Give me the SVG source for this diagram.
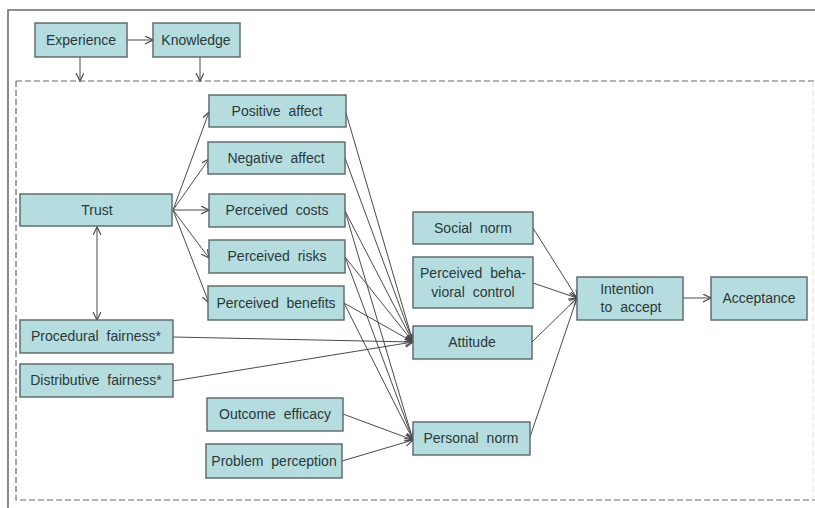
<svg xmlns="http://www.w3.org/2000/svg" width="815" height="508" viewBox="0 0 815 508">
<defs>
<style>
.box{fill:#b5dde0;stroke:#5a6466;stroke-width:1.4}
.t{font-family:"Liberation Sans",Arial,sans-serif;font-size:14px;fill:#2b3838;text-anchor:middle;word-spacing:4px}
.c{stroke:#4a4a4a;stroke-width:1;fill:none}
</style>
<marker id="ah" markerWidth="9" markerHeight="9" refX="8" refY="4" orient="auto-start-reverse" markerUnits="userSpaceOnUse">
<path d="M0,0 L8,4 L0,8" fill="none" stroke="#4a4a4a" stroke-width="1.2"/>
</marker>
</defs>
<rect width="815" height="508" fill="#ffffff"/>
<path d="M8,508 L8,10 L815,10" fill="none" stroke="#6e6e6e" stroke-width="1.6"/>
<path d="M16,81 L815,81 M16,81 L16,500 L815,500" fill="none" stroke="#6a6a6a" stroke-width="1.2" stroke-dasharray="6,3"/>
<path d="M813,81 L813,500" fill="none" stroke="#dddddd" stroke-width="1" stroke-dasharray="6,3"/>

<g id="connectors">
<path class="c" marker-end="url(#ah)" d="M127,40 L153,40"/>
<path class="c" marker-end="url(#ah)" d="M80,57 L80,81"/>
<path class="c" marker-end="url(#ah)" d="M200,57 L200,81"/>
<path class="c" marker-end="url(#ah)" d="M173,210 L209,112"/>
<path class="c" marker-end="url(#ah)" d="M173,210 L209,159"/>
<path class="c" marker-end="url(#ah)" d="M173,210 L209,210"/>
<path class="c" marker-end="url(#ah)" d="M173,210 L209,258"/>
<path class="c" marker-end="url(#ah)" d="M173,210 L209,303"/>
<path class="c" marker-start="url(#ah)" marker-end="url(#ah)" d="M97,227 L97,320"/>
<path class="c" marker-end="url(#ah)" d="M346,113 L413,342"/>
<path class="c" marker-end="url(#ah)" d="M345,158 L413,342"/>
<path class="c" marker-end="url(#ah)" d="M345,211 L413,342"/>
<path class="c" marker-end="url(#ah)" d="M345,257 L413,342"/>
<path class="c" marker-end="url(#ah)" d="M344,303 L413,342"/>
<path class="c" marker-end="url(#ah)" d="M173,337 L413,342"/>
<path class="c" marker-end="url(#ah)" d="M173,381 L413,342"/>
<path class="c" marker-end="url(#ah)" d="M345,211 L413,440"/>
<path class="c" marker-end="url(#ah)" d="M345,257 L413,440"/>
<path class="c" marker-end="url(#ah)" d="M344,303 L413,440"/>
<path class="c" marker-end="url(#ah)" d="M343,414 L413,440"/>
<path class="c" marker-end="url(#ah)" d="M342,461 L413,440"/>
<path class="c" marker-end="url(#ah)" d="M533,228 L577,298"/>
<path class="c" marker-end="url(#ah)" d="M533,283 L577,298"/>
<path class="c" marker-end="url(#ah)" d="M532,342 L577,298"/>
<path class="c" marker-end="url(#ah)" d="M530,437 L577,298"/>
<path class="c" marker-end="url(#ah)" d="M683,298 L711,298"/>
</g>

<g id="experience"><rect class="box" x="35" y="23" width="92" height="34"/><text class="t" x="81" y="45">Experience</text></g>
<g id="knowledge"><rect class="box" x="153" y="23" width="87" height="34"/><text class="t" x="196" y="45">Knowledge</text></g>
<g id="positive-affect"><rect class="box" x="209" y="95" width="137" height="32"/><text class="t" x="277" y="116">Positive affect</text></g>
<g id="negative-affect"><rect class="box" x="208" y="142" width="137" height="32"/><text class="t" x="276" y="163">Negative affect</text></g>
<g id="trust"><rect class="box" x="20" y="194" width="152" height="32"/><text class="t" x="97" y="215">Trust</text></g>
<g id="perceived-costs"><rect class="box" x="209" y="194" width="136" height="33"/><text class="t" x="277" y="215">Perceived costs</text></g>
<g id="perceived-risks"><rect class="box" x="209" y="240" width="136" height="33"/><text class="t" x="277" y="261">Perceived risks</text></g>
<g id="perceived-benefits"><rect class="box" x="208" y="286" width="136" height="34"/><text class="t" x="276" y="308">Perceived benefits</text></g>
<g id="procedural-fairness"><rect class="box" x="20" y="320" width="153" height="33"/><text class="t" x="96" y="341">Procedural fairness*</text></g>
<g id="distributive-fairness"><rect class="box" x="20" y="364" width="153" height="33"/><text class="t" x="96" y="385">Distributive fairness*</text></g>
<g id="outcome-efficacy"><rect class="box" x="207" y="398" width="136" height="33"/><text class="t" x="275" y="419">Outcome efficacy</text></g>
<g id="problem-perception"><rect class="box" x="206" y="444" width="136" height="34"/><text class="t" x="274" y="466">Problem perception</text></g>
<g id="social-norm"><rect class="box" x="413" y="212" width="120" height="32"/><text class="t" x="473" y="233">Social norm</text></g>
<g id="pbc"><rect class="box" x="413" y="257" width="120" height="51"/><text class="t" x="473" y="278">Perceived beha-</text><text class="t" x="473" y="297">vioral control</text></g>
<g id="attitude"><rect class="box" x="413" y="326" width="119" height="33"/><text class="t" x="472" y="347">Attitude</text></g>
<g id="personal-norm"><rect class="box" x="413" y="422" width="117" height="33"/><text class="t" x="471" y="443">Personal norm</text></g>
<g id="intention"><rect class="box" x="577" y="277" width="106" height="43"/><text class="t" x="627" y="294">Intention</text><text class="t" x="631" y="312">to accept</text></g>
<g id="acceptance"><rect class="box" x="711" y="277" width="96" height="43"/><text class="t" x="759" y="303">Acceptance</text></g>
</svg>
